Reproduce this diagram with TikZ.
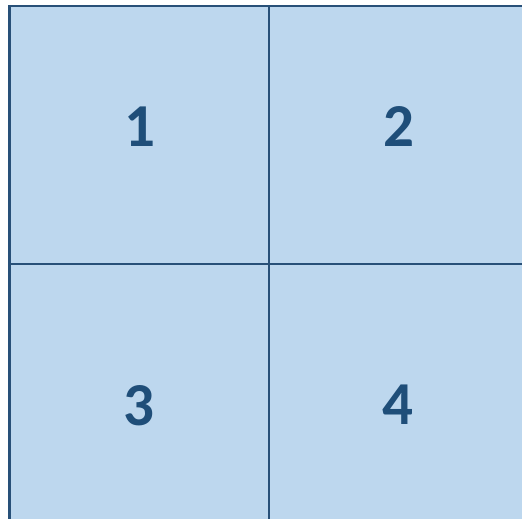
\documentclass[tikz,border=0pt]{standalone}
\usepackage{fontspec}
\setmainfont{Carlito}
\usetikzlibrary{positioning}
\definecolor{cellfill}{RGB}{189,215,238}
\definecolor{gridline}{RGB}{40,80,120}
\definecolor{numtext}{RGB}{31,78,121}

\begin{document}
\begin{tikzpicture}[
  x=1pt, y=-1pt,
  grid/.style={draw=gridline, line width=2.3pt},
  num/.style={text=numtext, font=\fontsize{61}{61}\selectfont\bfseries,
              inner sep=0pt, anchor=center}
]
  \useasboundingbox (0,0) rectangle (522,519);
  \clip (0,0) rectangle (522,519);
  \fill[cellfill] (9.5,6) rectangle (540,540);
  \draw[grid, line width=2.8pt] (9.5,540) -- (9.5,6) -- (540,6);
  \draw[grid] (269,6) -- (269,540);
  \draw[grid] (9.5,264) -- (540,264);

  \node[num] (one)   at (140,127) {1};
  \node[num] (two)   at (399,126) {2};
  \node[num] (three) at (139,406) {3};
  \node[num] (four)  at (398,405) {4};
\end{tikzpicture}
\end{document}
